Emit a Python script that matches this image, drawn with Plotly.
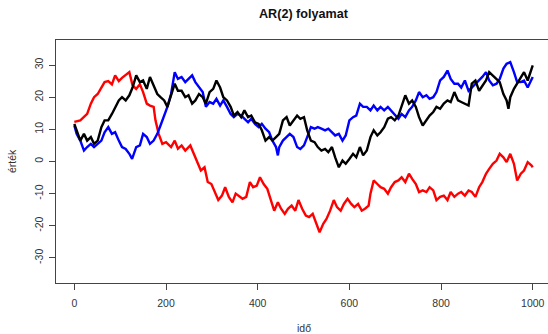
import plotly.graph_objects as go

# ---- data ----
red_t = [0, 13, 28, 36, 43, 51, 59, 66, 74, 82, 89, 97, 104, 112, 120, 127, 135, 143, 150, 158,
         165, 173, 177, 184, 192, 200, 211, 219, 226, 234, 242, 253, 261, 268, 276, 284, 291, 299,
         306, 314, 322, 329, 337, 345, 352, 360, 367, 375, 383, 390, 398, 405, 413, 421, 428, 436,
         444, 451, 459, 466, 474, 482, 489, 497, 505, 512, 520, 527, 535, 543, 550, 558, 566, 573,
         581, 588, 596, 604, 611, 619, 627, 634, 642, 646, 653, 661, 668, 676, 684, 691, 699, 707,
         714, 722, 730, 737, 745, 752, 760, 768, 775, 783, 790, 798, 806, 814, 821, 829, 837, 844,
         852, 860, 867, 875, 883, 890, 898, 905, 913, 921, 928, 936, 943, 951, 959, 966, 974, 981,
         989, 997, 1000]
red_v = [12.3, 12.8, 14.8, 18, 20, 21, 23, 24.7, 25, 24, 26.8, 25, 26, 27, 27.8, 23.7, 22.6, 24, 21.6, 18,
         17.4, 17, 12.8, 8.6, 5.5, 6, 4.5, 6.5, 4, 5, 3.4, 5, 2.4, 0.3, -2.8, -1.8, -6.4, -7,
         -9.5, -12, -10.6, -8, -11, -12.7, -10, -11, -11.6, -11, -6.4, -8, -7.5, -4.9, -7, -8.5, -12, -15.3,
         -12.7, -14.7, -16.3, -14.7, -13.7, -15.3, -12, -14.7, -16.8, -17.3, -16.3, -18.9, -22, -19.4, -17.9, -15.3, -12, -14.2,
         -15.3, -13.2, -11.6, -13.2, -14.2, -13.2, -15.3, -14.7, -13.7, -10, -5.9, -7, -8, -8.5, -10, -8, -6.4, -5.9,
         -4.9, -6.4, -3.8, -5.4, -7, -9.5, -9, -9.5, -8, -9, -12, -11, -10.6, -12, -9.5, -11, -10, -9.5,
         -10.6, -9, -9.5, -11, -8, -6.4, -3.8, -2.3, -0.7, 0.3, 2.4, 1.3, -0.2, 2.4, -0.7, -5.9, -3.8, -2.8,
         -0.2, -1.2, -1.8]

blue_t = [0, 5, 13, 21, 28, 36, 43, 51, 59, 66, 74, 82, 89, 97, 104, 112, 120, 126, 135, 143,
          150, 158, 165, 173, 181, 188, 196, 203, 211, 219, 226, 234, 242, 249, 257, 264, 272, 280, 287, 295,
          303, 310, 318, 325, 333, 341, 348, 356, 364, 371, 379, 386, 394, 402, 409, 417, 425, 432, 440, 444,
          447, 455, 463, 470, 478, 486, 493, 501, 508, 516, 524, 531, 539, 547, 554, 562, 569, 577, 585, 592,
          600, 608, 615, 623, 630, 638, 646, 653, 661, 668, 676, 684, 691, 699, 707, 714, 722, 730, 737, 745,
          752, 760, 768, 775, 783, 790, 798, 806, 814, 821, 829, 837, 844, 852, 860, 867, 875, 883, 890, 898,
          905, 913, 921, 928, 936, 943, 951, 959, 966, 974, 981, 989, 997, 1000]
blue_v = [11.2, 8.6, 6.5, 3.4, 4.5, 5.5, 4.5, 5.5, 6.5, 9.1, 10.7, 8.6, 9.1, 6.5, 4.5, 3.9, 2.4, 0.8, 4.5, 5,
          8.6, 7.6, 5.5, 6.5, 8.6, 11.2, 14.3, 17, 21, 27.8, 25.7, 26.3, 24.7, 25.7, 26.8, 24.7, 23, 21.6, 17, 18.5,
          18, 19.5, 17.4, 19, 17, 14.8, 13.8, 14.8, 14.3, 13.3, 12.2, 13.3, 11.7, 10.7, 11.7, 10.2, 9.1, 6.5, 4.5, 1.9,
          4.5, 6.5, 7.6, 8.6, 7.6, 4.5, 3.9, 5, 7.6, 10.7, 10.2, 10.7, 10.2, 9.7, 10.2, 9.1, 8.1, 8.6, 6.5, 8.1,
          12.8, 13.8, 14.3, 18, 17, 17, 15.9, 17.4, 15.9, 17, 15.9, 17, 15.9, 14.3, 13.3, 14.8, 13.8, 15.9, 17, 19,
          21.6, 20, 20.6, 19.5, 20, 21.6, 25.2, 26.3, 28.3, 25.7, 24.2, 24.2, 23, 25.2, 22, 23, 24.2, 25.2, 26.3, 27.8,
          25.2, 23.7, 24.2, 25.7, 28.9, 30.4, 30.9, 27.8, 24.7, 24.7, 25.2, 23, 25.7, 26.3]

black_t = [0, 5, 13, 21, 28, 36, 43, 51, 59, 66, 74, 82, 89, 97, 104, 112, 120, 127, 135, 143,
           150, 158, 165, 173, 181, 188, 196, 203, 211, 219, 226, 234, 242, 249, 257, 264, 272, 280, 287, 295,
           303, 310, 318, 325, 333, 341, 348, 356, 364, 371, 379, 386, 394, 402, 409, 417, 425, 432, 440, 447,
           455, 463, 470, 478, 486, 493, 501, 508, 516, 524, 531, 539, 547, 554, 562, 569, 577, 585, 592, 600,
           608, 615, 623, 630, 638, 646, 653, 661, 668, 676, 684, 691, 699, 707, 714, 722, 730, 737, 745, 752,
           760, 768, 775, 783, 790, 798, 806, 814, 821, 829, 837, 844, 852, 860, 867, 875, 883, 890, 898, 905,
           913, 921, 928, 936, 943, 947, 951, 959, 966, 974, 981, 989, 997, 1000]
black_v = [11.7, 9.7, 6.5, 8.6, 6.5, 7.6, 5.5, 6.5, 10.7, 12.8, 12.8, 14.8, 17, 19, 20, 19, 20.6, 23, 26.8, 24.7,
           25.2, 22.6, 26.3, 23.7, 21, 20, 19, 17, 21, 24.2, 22, 22, 20, 20.6, 18, 19, 21, 20, 18, 21.6,
           22.6, 25.2, 23, 20, 19, 17, 14.3, 15.4, 13.8, 15.9, 13.8, 14.3, 12.2, 11.7, 9.7, 6.5, 7.6, 6.5, 7.6, 8.6,
           12.8, 13.8, 11.2, 12.8, 14.3, 13.3, 13.8, 9.7, 6.5, 6, 4.5, 3.4, 3.9, 2.9, 4.5, 1.3, -1.8, 0.3, -0.7, 0.8,
           2.4, 1.3, 4.5, 1.9, 3.4, 7.6, 9.7, 8.1, 9.1, 10.7, 13.3, 13.8, 12.8, 14.3, 17.4, 20.6, 18, 19, 17, 13.8,
           11.2, 12.8, 14.3, 15.4, 17, 16.4, 18, 19, 18.5, 21.6, 19, 18.5, 18, 17.4, 24.2, 25.2, 22, 23.7, 25.2, 27.8,
           26.8, 25.7, 24.7, 21, 19, 16.4, 20, 22.6, 24.2, 26.3, 27.8, 25.2, 28.3, 29.9]

x_ticks = [0, 200, 400, 600, 800, 1000]
y_ticks = [-30, -20, -10, 0, 10, 20, 30]
title_text = "AR(2) folyamat"
x_label = "idő"
y_label = "érték"

# ---- figure ----
W, H = 548, 334
L, R, T = 56, 0, 40
PH = 243
B = H - T - PH
PW = W - L - R
FONT = "Liberation Sans, Arial, sans-serif"
PX_PER_UNIT = 0.4584


def px_x(abs_x):
    return (abs_x - L) / PW


def px_y(abs_y):
    return 1 - (abs_y - T) / PH


fig = go.Figure()
for t, v, c in [(red_t, red_v, "#FF0000"), (blue_t, blue_v, "#0000FF"), (black_t, black_v, "#000000")]:
    fig.add_trace(go.Scatter(x=t, y=v, mode="lines", line=dict(color=c, width=2.4),
                             showlegend=False, hoverinfo="skip"))

fig.update_layout(
    width=W, height=H,
    margin=dict(l=L, r=R, t=T, b=B, pad=0),
    paper_bgcolor="white", plot_bgcolor="white",
    font=dict(family=FONT, size=10.5, color="#333333"),
    xaxis=dict(range=[-40, -40 + PW / PX_PER_UNIT], tickvals=x_ticks,
               ticktext=[str(v) for v in x_ticks],
               showgrid=False, zeroline=False, showline=True, mirror=True,
               linecolor="#444444", linewidth=1, ticks="outside", ticklen=6,
               tickcolor="#444444", ticklabelstandoff=4,
               tickfont=dict(size=10.5, color="#333333")),
    yaxis=dict(range=[-37.8, 37.8], tickvals=y_ticks,
               ticktext=[str(v) for v in y_ticks],
               showgrid=False, zeroline=False, showline=True, mirror=False,
               linecolor="#444444", linewidth=1, ticks="outside", ticklen=6,
               tickcolor="#444444", tickangle=-90, ticklabelstandoff=2,
               tickfont=dict(size=10.5, color="#333333")),
    annotations=[
        dict(text="<b>" + title_text + "</b>", xref="paper", yref="paper",
             x=px_x(304), y=px_y(14),
             showarrow=False, xanchor="center", yanchor="middle",
             font=dict(size=12.6, color="#111111", family=FONT)),
        dict(text=x_label, xref="paper", yref="paper",
             x=px_x(304), y=px_y(328),
             showarrow=False, xanchor="center", yanchor="middle",
             font=dict(size=10.5, color="#333333", family=FONT)),
        dict(text=y_label, xref="paper", yref="paper",
             x=px_x(12), y=px_y(161), textangle=-90,
             showarrow=False, xanchor="center", yanchor="middle",
             font=dict(size=10.5, color="#333333", family=FONT)),
    ],
)

fig.write_html("out.html",
               config={"displayModeBar": False, "staticPlot": True},
               post_script="document.body.style.margin='0px';document.body.style.overflow='hidden';")
